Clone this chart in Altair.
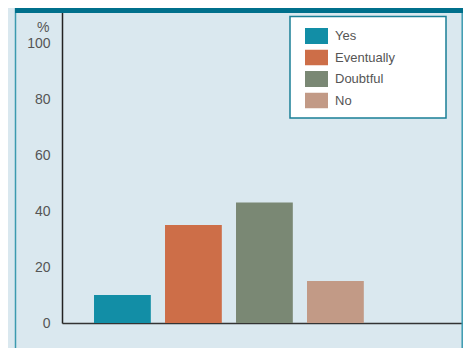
import altair as alt
import pandas as pd

categories = ["Yes", "Eventually", "Doubtful", "No"]
values = [10, 35, 43, 15]
colors = ["#128EA6", "#CD6E48", "#7A8874", "#C29A86"]
y_ticks = [0, 20, 40, 60, 80, 100]

df = pd.DataFrame({"answer": categories, "pct": values})
one = pd.DataFrame({"k": [0]})

FONT = "Liberation Sans"
TXT = "#555555"

bars = alt.Chart(df).mark_bar().encode(
    x=alt.X("answer:N", sort=categories,
            scale=alt.Scale(paddingInner=0.2, paddingOuter=0.924, align=0.244),
            axis=alt.Axis(labels=False, ticks=False, title=None,
                          domainColor="#333333", domainWidth=1.5)),
    y=alt.Y("pct:Q", scale=alt.Scale(domain=[0, 112.5], nice=False),
            axis=alt.Axis(values=y_ticks, grid=False, ticks=False, labelPadding=12,
                          labelFont=FONT, labelFontSize=14, labelColor=TXT,
                          domainColor="#222222", domainWidth=1.5,
                          title="%", titleAngle=0, titleAlign="right",
                          titleBaseline="alphabetic", titleX=-13, titleY=23,
                          titleFont=FONT, titleFontSize=14, titleFontWeight="normal",
                          titleColor=TXT)),
    color=alt.Color("answer:N", sort=categories,
                    scale=alt.Scale(domain=categories, range=colors),
                    legend=alt.Legend(orient="none", legendX=243, legendY=20,
                                      title=None, padding=0,
                                      symbolType="M-1,-0.7H1V0.7H-1Z", symbolSize=529,
                                      symbolStrokeWidth=0, symbolOpacity=1,
                                      clipHeight=16, rowPadding=5.5, labelOffset=7,
                                      labelFont=FONT, labelFontSize=13, labelColor=TXT)),
)

legend_box = alt.Chart(one).mark_rect(fill="white", stroke="#1A7F96", strokeWidth=1.5).encode(
    x=alt.value(228), x2=alt.value(384), y=alt.value(8.5), y2=alt.value(110)
)
top_band = alt.Chart(one).mark_rect(fill="#00708C").encode(
    x=alt.value(-47), x2=alt.value(401), y=alt.value(0), y2=alt.value(5)
)
left_border = alt.Chart(one).mark_rule(color="#3C9AAF", strokeWidth=1.5).encode(
    x=alt.value(-46.5), y=alt.value(0), y2=alt.value(340)
)
right_border = alt.Chart(one).mark_rule(color="#3C9AAF", strokeWidth=1.5).encode(
    x=alt.value(400.2), y=alt.value(0), y2=alt.value(340)
)

chart = alt.layer(legend_box, left_border, right_border, bars, top_band).properties(
    width=401, height=315,
    autosize=alt.AutoSizeParams(type="none"),
    padding={"left": 54, "top": 0, "right": 0, "bottom": 25},
    background="#DAE8EF",
).configure_view(stroke=None)

chart.save("out.html", embed_options={"renderer": "svg", "actions": False})
